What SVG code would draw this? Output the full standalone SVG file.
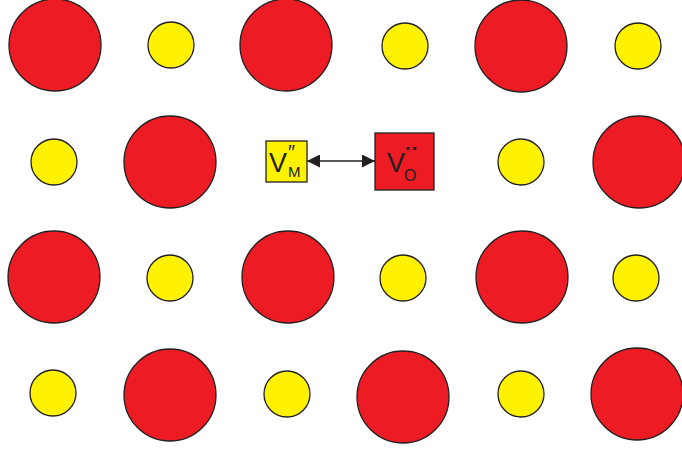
<svg xmlns="http://www.w3.org/2000/svg" width="682" height="451" viewBox="0 0 682 451">
<style>
.r{fill:#ED1C24;stroke:#231F20;stroke-width:1.3}
.y{fill:#FFF200;stroke:#231F20;stroke-width:1.3}
.t{font-family:"Liberation Sans",Arial,sans-serif;fill:#231F20}
</style>
<defs>
<marker id="ah" viewBox="0 0 10 10" refX="10" refY="5" markerWidth="13" markerHeight="13" markerUnits="userSpaceOnUse" orient="auto-start-reverse">
<path d="M0,0 L10,5 L0,10 Z" fill="#231F20"/>
</marker>
</defs>
<rect width="682" height="451" fill="#fff"/>
<g id="atoms">
<circle class="r" cx="55" cy="45" r="46"/>
<circle class="y" cx="171" cy="45" r="23"/>
<circle class="r" cx="286" cy="45" r="46"/>
<circle class="y" cx="405" cy="46" r="23"/>
<circle class="r" cx="521" cy="46" r="46"/>
<circle class="y" cx="638" cy="46" r="23"/>

<circle class="y" cx="54" cy="162" r="23"/>
<circle class="r" cx="170" cy="162" r="46"/>
<circle class="y" cx="521" cy="162" r="23"/>
<circle class="r" cx="639" cy="162" r="46"/>

<circle class="r" cx="54" cy="277" r="46"/>
<circle class="y" cx="170" cy="278" r="23"/>
<circle class="r" cx="288" cy="277" r="46"/>
<circle class="y" cx="403" cy="278" r="23"/>
<circle class="r" cx="522" cy="277" r="46"/>
<circle class="y" cx="636" cy="278" r="23"/>

<circle class="y" cx="53" cy="393" r="23"/>
<circle class="r" cx="170" cy="395" r="46"/>
<circle class="y" cx="287" cy="394" r="23"/>
<circle class="r" cx="403" cy="397" r="46"/>
<circle class="y" cx="521" cy="394" r="23"/>
<circle class="r" cx="637" cy="394" r="46"/>
</g>
<g id="connectors">
<line x1="307" y1="161" x2="375" y2="161" stroke="#231F20" stroke-width="1.5" marker-start="url(#ah)" marker-end="url(#ah)"/>
</g>
<g id="VM">
<rect x="266" y="141" width="41" height="41" fill="#FFF200" stroke="#231F20" stroke-width="1.3"/>
<text class="t" x="269" y="172" font-size="27">V</text>
<text class="t" x="288" y="159" font-size="20">″</text>
<text class="t" x="288" y="177" font-size="15">M</text>
</g>
<g id="VO">
<rect x="375" y="133" width="59" height="57" fill="#ED1C24" stroke="#231F20" stroke-width="1.3"/>
<text class="t" x="387" y="172" font-size="27">V</text>
<text class="t" x="405" y="155" font-size="20" font-weight="bold">··</text>
<text class="t" x="404" y="181" font-size="16">O</text>
</g>
</svg>
